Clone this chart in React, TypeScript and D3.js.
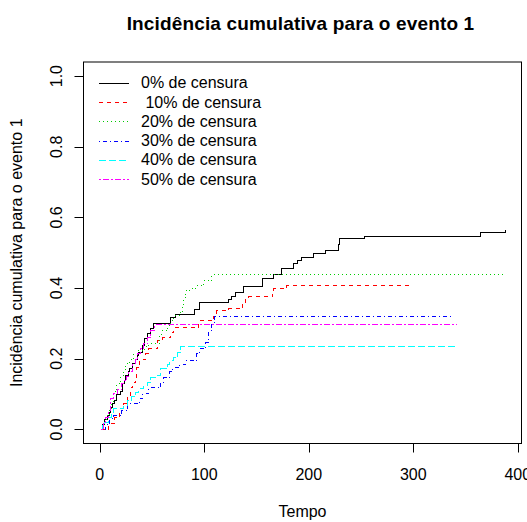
import React from "react";
import * as d3 from "d3";

// Cumulative incidence step curves for event 1, one per censoring level
const times0 = [0, 2, 4, 7, 9, 10, 12, 14, 16, 19, 21, 23, 24, 27, 28, 31, 34, 36, 37, 40, 42, 45, 48, 51, 67, 72, 90, 95, 123, 126, 129, 137, 155, 166, 173, 185, 189, 193, 204, 216, 228, 229, 253, 364, 388];
const cif0 = [0, 0.015, 0.03, 0.04, 0.05, 0.064, 0.075, 0.083, 0.1, 0.11, 0.13, 0.14, 0.155, 0.165, 0.175, 0.187, 0.2, 0.21, 0.22, 0.24, 0.258, 0.272, 0.286, 0.3, 0.319, 0.328, 0.342, 0.361, 0.368, 0.377, 0.389, 0.406, 0.428, 0.44, 0.458, 0.47, 0.479, 0.487, 0.498, 0.508, 0.526, 0.541, 0.548, 0.558, 0.567];

const times10 = [0, 8, 14, 18, 22, 26, 29, 31, 34, 35, 38, 43, 46, 55, 60, 67, 70, 94, 108, 111, 123, 136, 139, 142, 165, 166, 178, 299];
const cif10 = [0, 0.017, 0.036, 0.06, 0.074, 0.097, 0.121, 0.135, 0.149, 0.177, 0.2, 0.215, 0.229, 0.253, 0.262, 0.276, 0.289, 0.309, 0.32, 0.338, 0.345, 0.361, 0.371, 0.377, 0.389, 0.399, 0.408, 0.408];

const times20 = [0, 3, 6, 9, 11, 13, 16, 19, 22, 24, 28, 32, 36, 42, 46, 57, 59, 64, 67, 70, 76, 79, 80, 82, 85, 91, 99, 106, 388];
const cif20 = [0, 0.02, 0.04, 0.06, 0.08, 0.11, 0.13, 0.154, 0.17, 0.187, 0.2, 0.215, 0.225, 0.235, 0.245, 0.266, 0.281, 0.295, 0.309, 0.323, 0.333, 0.352, 0.375, 0.394, 0.4, 0.408, 0.423, 0.441, 0.441];

const times30 = [0, 5, 9, 13, 20, 26, 38, 40, 46, 58, 61, 66, 69, 76, 82, 92, 95, 101, 104, 106, 109, 336];
const cif30 = [0, 0.015, 0.031, 0.04, 0.054, 0.074, 0.09, 0.102, 0.121, 0.135, 0.149, 0.165, 0.177, 0.186, 0.196, 0.215, 0.229, 0.248, 0.281, 0.305, 0.321, 0.321];

const times40 = [0, 2, 4, 8, 11, 13, 22, 26, 30, 34, 37, 41, 45, 48, 53, 58, 64, 66, 70, 74, 77, 341];
const cif40 = [0, 0.011, 0.022, 0.035, 0.045, 0.06, 0.07, 0.083, 0.095, 0.105, 0.117, 0.126, 0.135, 0.149, 0.155, 0.173, 0.185, 0.196, 0.205, 0.22, 0.237, 0.237];

const times50 = [0, 3, 5, 8, 10, 13, 17, 20, 22, 25, 27, 31, 34, 36, 39, 41, 45, 48, 52, 341];
const cif50 = [0, 0.02, 0.036, 0.055, 0.089, 0.102, 0.115, 0.13, 0.14, 0.15, 0.164, 0.187, 0.2, 0.215, 0.23, 0.244, 0.262, 0.281, 0.298, 0.298];

const legendLabels = ["0% de censura", " 10% de censura", "20% de censura", "30% de censura", "40% de censura", "50% de censura"];
const xTicks = [0, 100, 200, 300, 400];
const yTicks = [0, 0.2, 0.4, 0.6, 0.8, 1.0];

const titleText = "Incidência cumulativa para o evento 1";
const xLabel = "Tempo";
const yLabel = "Incidência cumulativa para o evento 1";

// line styles: solid, dashed, dotted, dotdash, longdash, twodash
const colors = ["#000000", "#FF0000", "#00CD00", "#0000FF", "#00FFFF", "#FF00FF"];
const dashes = ["none", "4,4", "1,3", "1,3,4,3", "7,3", "2,2,6,2"];

const seriesTimes = [times0, times10, times20, times30, times40, times50];
const seriesCif = [cif0, cif10, cif20, cif30, cif40, cif50];

const W = 527;
const H = 522;
const plot = { left: 83.5, right: 521.5, top: 62, bottom: 443.5 };
const FONT = "'Liberation Sans', Arial, sans-serif";

export default function App() {
  const allTimes = seriesTimes.flat();
  const tMax = d3.max(allTimes) as number;
  const xPad = 0.04 * tMax;
  const x = d3.scaleLinear().domain([-xPad, tMax + xPad]).range([plot.left, plot.right]);
  const y = d3.scaleLinear().domain([-0.04, 1.04]).range([plot.bottom, plot.top]);

  const line = d3
    .line<[number, number]>()
    .x((d) => Math.round(x(d[0])) + 0.5)
    .y((d) => Math.round(y(d[1])) + 0.5)
    .curve(d3.curveStepAfter);

  const midX = (plot.left + plot.right) / 2;
  const midY = (plot.top + plot.bottom) / 2;

  const legendX0 = 98.5;
  const legendX1 = 128.5;
  const legendTextX = 141;
  const legendY0 = 82.7;
  const legendDy = 19.3;

  return (
    <svg
      width={W}
      height={H}
      style={{ position: "absolute", left: 0, top: 0, background: "#fff" }}
      fontFamily={FONT}
    >
      <rect x={0} y={0} width={W} height={H} fill="#fff" />
      <text x={midX - 2} y={29.5} textAnchor="middle" fontSize={19} fontWeight="bold" fill="#000" letterSpacing={0.15}>
        {titleText}
      </text>

      {/* curves */}
      {seriesTimes.map((ts, i) => {
        const pts: [number, number][] = ts.map((t, j) => [t, seriesCif[i][j]]);
        return (
          <path
            key={i}
            d={line(pts) || ""}
            fill="none"
            stroke={colors[i]}
            strokeWidth={1}
            strokeDasharray={dashes[i]}
            shapeRendering="crispEdges"
          />
        );
      })}

      {/* box */}
      <rect
        x={plot.left}
        y={plot.top}
        width={plot.right - plot.left}
        height={plot.bottom - plot.top}
        fill="none"
        stroke="#000"
        strokeWidth={1}
      />

      {/* x axis */}
      {xTicks.map((t) => (
        <g key={"x" + t}>
          <line x1={Math.round(x(t)) + 0.5} x2={Math.round(x(t)) + 0.5} y1={plot.bottom} y2={plot.bottom + 9} stroke="#000" />
          <text x={x(t)} y={480} textAnchor="middle" fontSize={16} fill="#000">
            {t}
          </text>
        </g>
      ))}
      <text x={midX} y={516.5} textAnchor="middle" fontSize={16} fill="#000">
        {xLabel}
      </text>

      {/* y axis */}
      {yTicks.map((v) => (
        <g key={"y" + v}>
          <line x1={plot.left - 9} x2={plot.left} y1={Math.round(y(v)) + 0.5} y2={Math.round(y(v)) + 0.5} stroke="#000" />
          <text
            transform={`translate(61.5, ${y(v)}) rotate(-90)`}
            textAnchor="middle"
            fontSize={16}
            fill="#000"
          >
            {v.toFixed(1)}
          </text>
        </g>
      ))}
      <text
        transform={`translate(22, ${midY}) rotate(-90)`}
        textAnchor="middle"
        fontSize={16}
        fill="#000"
      >
        {yLabel}
      </text>

      {/* legend */}
      {legendLabels.map((lab, i) => {
        const ly = legendY0 + i * legendDy;
        return (
          <g key={"l" + i}>
            <line
              x1={legendX0}
              x2={legendX1}
              y1={Math.round(ly) + 0.5}
              y2={Math.round(ly) + 0.5}
              stroke={colors[i]}
              strokeWidth={1}
              strokeDasharray={dashes[i]}
              shapeRendering="crispEdges"
            />
            <text x={legendTextX} y={ly + 5.5} fontSize={16} fill="#000" style={{ whiteSpace: "pre" }}>
              {lab}
            </text>
          </g>
        );
      })}
    </svg>
  );
}
